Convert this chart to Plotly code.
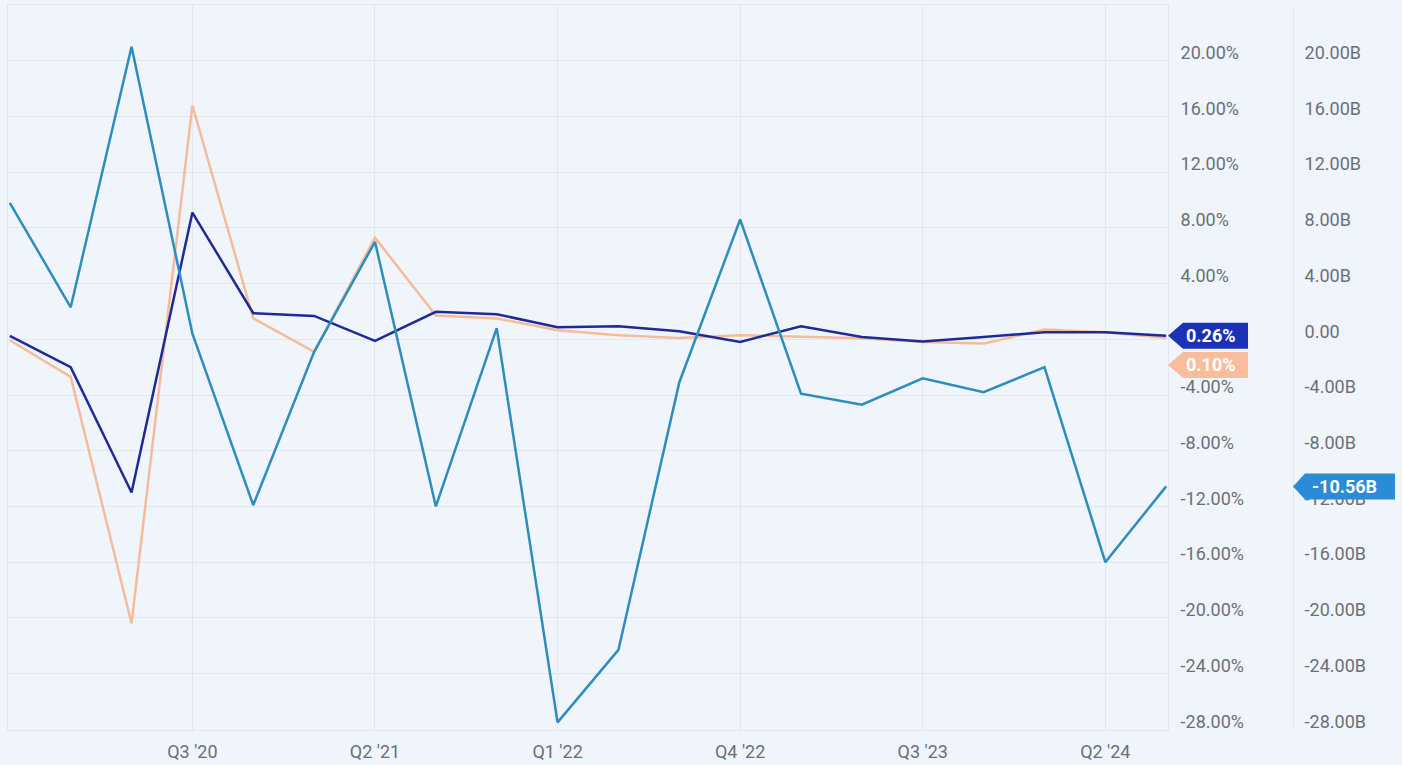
import plotly.graph_objects as go

# ---------------- data ----------------
quarters = ["Q4 '19", "Q1 '20", "Q2 '20", "Q3 '20", "Q4 '20", "Q1 '21", "Q2 '21",
            "Q3 '21", "Q4 '21", "Q1 '22", "Q2 '22", "Q3 '22", "Q4 '22", "Q1 '23",
            "Q2 '23", "Q3 '23", "Q4 '23", "Q1 '24", "Q2 '24", "Q3 '24"]
tick_quarters = ["Q3 '20", "Q2 '21", "Q1 '22", "Q4 '22", "Q3 '23", "Q2 '24"]

# light-blue series (billions, right-most axis)
series_b = [9.8, 2.3, 21.0, 0.4, -11.9, -0.9, 7.0, -12.0, 0.8, -27.5,
            -22.3, -3.1, 8.6, -3.9, -4.7, -2.8, -3.8, -2.0, -16.0, -10.56]
# dark-blue series (percent)
series_dark_pct = [0.24, -2.0, -11.0, 9.1, 1.87, 1.68, -0.12, 1.97, 1.8, 0.86,
                   0.94, 0.58, -0.19, 0.94, 0.17, -0.15, 0.17, 0.5, 0.5, 0.26]
# orange series (percent)
series_orange_pct = [-0.07, -2.7, -20.4, 16.8, 1.5, -0.9, 7.3, 1.7, 1.5, 0.65,
                     0.29, 0.1, 0.29, 0.17, 0.07, -0.19, -0.31, 0.7, 0.5, 0.10]

tick_values = [20, 16, 12, 8, 4, 0, -4, -8, -12, -16, -20, -24, -28]
# the 0% label sits fully under the last-value tag in the reference
pct_labels = ["" if v == 0 else f"{v:.2f}%" for v in tick_values]
b_labels = ["0.00" if v == 0 else f"{v:.2f}B" for v in tick_values]

# ---------------- style ----------------
W, H = 1402, 765
ML, MR, MT, MB = 8, 0, 5, 35
PAPER_W = W - ML - MR
PLOT_W = 1160
X_END = PLOT_W / PAPER_W
SEP_POS = (1293 - ML) / PAPER_W

BG = "#F0F5FB"
GRID = "#E1E7EF"
TICK_FONT = dict(family="Roboto", size=18, color="#6B7079")
DARK = "#1F2A96"
ORANGE = "#F5BC9B"
TEAL = "#2C8DBF"
DARK_TAG = "#1D30B8"
ORANGE_TAG = "#F8BE9B"
TEAL_TAG = "#2A8CD6"

fig = go.Figure()
fig.add_trace(go.Scatter(x=quarters, y=series_orange_pct, mode="lines",
                         line=dict(color=ORANGE, width=2.5), yaxis="y"))
fig.add_trace(go.Scatter(x=quarters, y=series_dark_pct, mode="lines",
                         line=dict(color=DARK, width=2.5), yaxis="y"))
fig.add_trace(go.Scatter(x=quarters, y=series_b, mode="lines",
                         line=dict(color=TEAL, width=2.5), yaxis="y2"))

YR = [-28.05, 24.0]

fig.update_layout(
    width=W, height=H,
    margin=dict(l=ML, r=MR, t=MT, b=MB),
    paper_bgcolor=BG, plot_bgcolor=BG,
    showlegend=False,
    xaxis=dict(type="category", domain=[0, X_END], range=[-0.03, len(quarters) - 1 + 0.03],
               tickmode="array", tickvals=tick_quarters, ticktext=tick_quarters,
               showgrid=True, gridcolor=GRID, gridwidth=1,
               showline=True, mirror=True, linecolor=GRID, linewidth=1,
               ticks="", tickfont=TICK_FONT, zeroline=False, ticklabelstandoff=5),
    yaxis=dict(side="right", anchor="x", range=YR,
               tickmode="array", tickvals=tick_values, ticktext=pct_labels,
               showgrid=True, gridcolor=GRID, gridwidth=1, zeroline=False,
               showline=True, mirror=True, linecolor=GRID, linewidth=1,
               ticks="", tickfont=TICK_FONT, ticklabelshift=-8, ticklabelstandoff=8),
    yaxis2=dict(side="right", overlaying="y", anchor="free", position=SEP_POS, range=YR,
                tickmode="array", tickvals=tick_values, ticktext=b_labels,
                showgrid=False, zeroline=False,
                showline=True, linecolor=GRID, linewidth=1,
                ticks="", tickfont=TICK_FONT, ticklabelshift=-8, ticklabelstandoff=7),
)

# ---------------- last-value tags ----------------
def tag(anchor_x, yref, value, dy, color, text, body_start, body_end, text_dx,
        text_color="white"):
    half = 13
    path = (f"M0,{dy} L{body_start},{dy + half} L{body_end},{dy + half} "
            f"L{body_end},{dy - half} L{body_start},{dy - half} Z")
    fig.add_shape(type="path", xref="paper", yref=yref,
                  xsizemode="pixel", ysizemode="pixel",
                  xanchor=anchor_x, yanchor=value, path=path,
                  fillcolor=color, line=dict(width=0), layer="above")
    fig.add_annotation(x=anchor_x, xref="paper", y=value, yref=yref,
                       xanchor="center", yanchor="middle",
                       xshift=(body_start + body_end) / 2 + text_dx, yshift=dy,
                       text=f"<b>{text}</b>", showarrow=False, borderpad=0,
                       font=dict(family="Roboto", size=18, color=text_color))

tag(X_END, "y", series_dark_pct[-1], 0, DARK_TAG,
    f"{series_dark_pct[-1]:.2f}%", 15, 80, -5)
tag(X_END, "y", series_orange_pct[-1], -27, ORANGE_TAG,
    f"{series_orange_pct[-1]:.2f}%", 15, 80, -5)
tag(SEP_POS, "y2", series_b[-1], 0, TEAL_TAG,
    f"{series_b[-1]:.2f}B", 12, 102, -6)

fig.write_html("out.html")
